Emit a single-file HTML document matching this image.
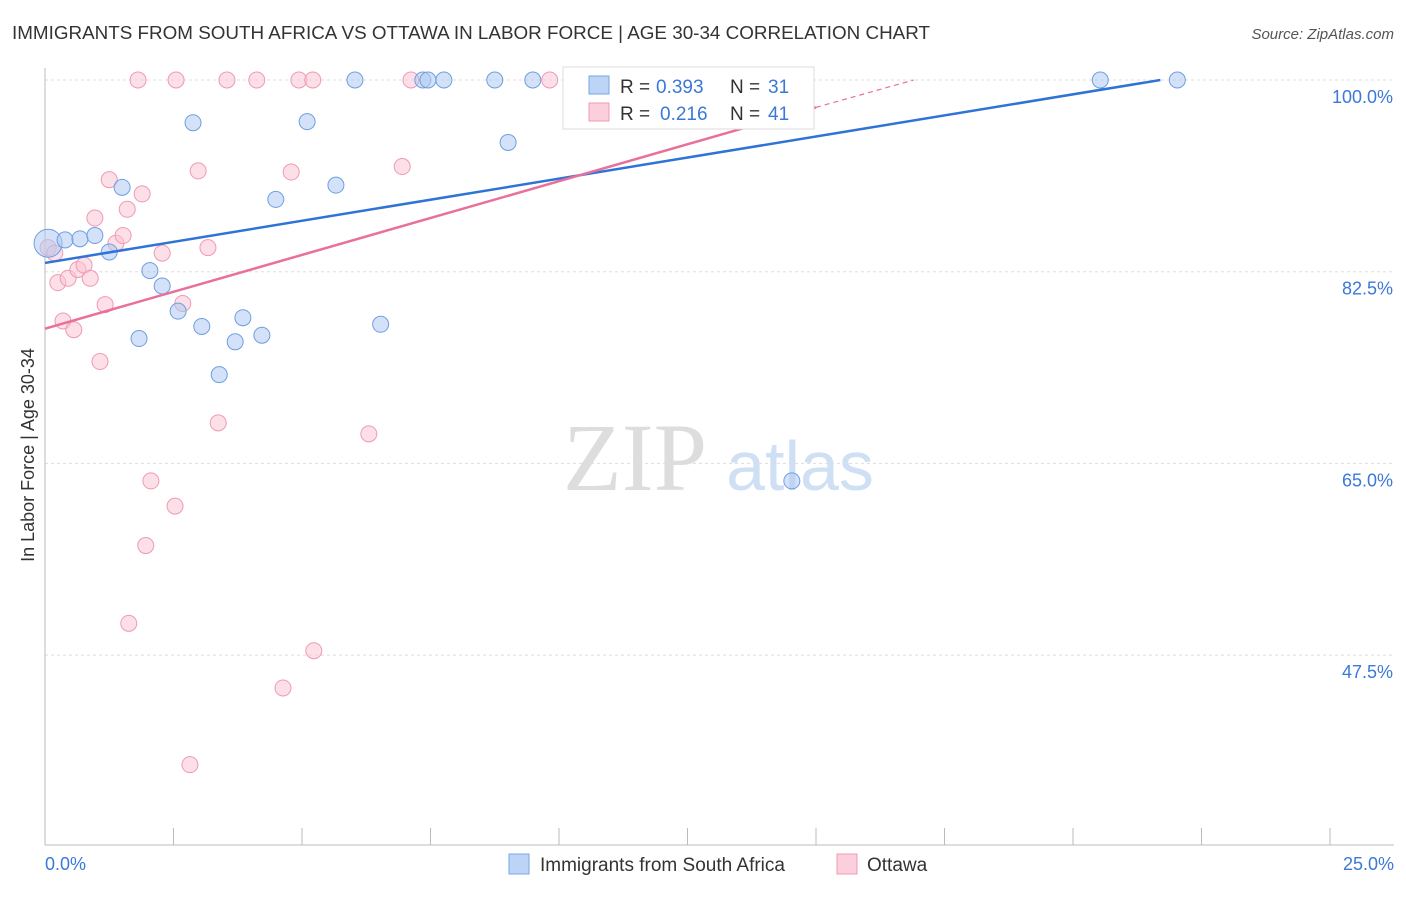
<!DOCTYPE html>
<html><head><meta charset="utf-8"><style>
body{margin:0;background:#fff;font-family:"Liberation Sans",sans-serif}
</style></head><body>
<svg width="1406" height="892" xmlns="http://www.w3.org/2000/svg" font-family="Liberation Sans, sans-serif">
<text x="12" y="39" font-size="18.5" fill="#333" textLength="918" lengthAdjust="spacingAndGlyphs">IMMIGRANTS FROM SOUTH AFRICA VS OTTAWA IN LABOR FORCE | AGE 30-34 CORRELATION CHART</text>
<text x="1394" y="39" font-size="15" fill="#555" font-style="italic" text-anchor="end">Source: ZipAtlas.com</text>
<text x="635" y="490" font-size="96" fill="#ddd" font-family="Liberation Serif, serif" text-anchor="middle">ZIP</text>
<text x="800" y="490" font-size="70" fill="#cfe0f4" text-anchor="middle">atlas</text>
<g id="grid"></g><g id="axes"></g><g id="marks"></g>
<text x="34" y="455" font-size="18" fill="#333" text-anchor="middle" transform="rotate(-90 34 455)">In Labor Force | Age 30-34</text>
<text x="45" y="870" font-size="18" fill="#3b78d8">0.0%</text>
<text x="1394" y="870" font-size="18" fill="#3b78d8" text-anchor="end">25.0%</text>
<g>
<rect x="563" y="67" width="251" height="62" fill="#fff" stroke="#ddd"/>
<rect x="589" y="76" width="20" height="18" fill="#bcd4f5" stroke="#7aa6e6"/>
<text x="620" y="93" font-size="19" fill="#333">R =</text>
<text x="656" y="93" font-size="19" fill="#3b78d8">0.393</text>
<text x="730" y="93" font-size="19" fill="#333">N =</text>
<text x="768" y="93" font-size="19" fill="#3b78d8">31</text>
<rect x="589" y="103" width="20" height="18" fill="#fbcfdc" stroke="#f09ab4"/>
<text x="620" y="120" font-size="19" fill="#333">R =</text>
<text x="660" y="120" font-size="19" fill="#3b78d8">0.216</text>
<text x="730" y="120" font-size="19" fill="#333">N =</text>
<text x="768" y="120" font-size="19" fill="#3b78d8">41</text>
</g>
<g>
<rect x="509" y="854" width="20" height="20" fill="#bcd4f5" stroke="#7aa6e6"/>
<text x="540" y="871" font-size="19" fill="#333">Immigrants from South Africa</text>
<rect x="837" y="854" width="20" height="20" fill="#fbcfdc" stroke="#f09ab4"/>
<text x="867" y="871" font-size="19" fill="#333">Ottawa</text>
</g>
</svg>
<script>
const yTicks=[100,82.5,65,47.5];
const xTicks=[0,2.5,5,7.5,10,12.5,15,17.5,20,22.5,25];
const blueX=[0.06,0.39,0.68,0.97,1.25,1.5,1.83,2.04,2.28,2.59,2.88,3.05,3.39,3.7,3.85,4.22,4.49,5.1,5.66,6.03,6.53,7.35,7.45,7.76,8.75,9.01,9.49,14.53,20.53,22.03,11.32];
const blueY=[85.1,85.4,85.5,85.8,84.3,90.2,76.4,82.6,81.2,78.9,96.1,77.5,73.1,76.1,78.3,76.7,89.1,96.2,90.4,100,77.7,100,100,100,100,94.3,100,63.4,100,100,100];
const pinkX=[0.06,0.19,0.25,0.35,0.45,0.56,0.64,0.76,0.88,0.97,1.07,1.17,1.25,1.38,1.52,1.6,1.81,1.89,1.96,2.06,1.63,2.28,2.53,2.55,2.68,2.82,2.98,3.17,3.37,3.54,4.12,4.63,4.79,4.94,5.21,5.23,6.3,6.95,7.12,9.82,11.38];
const pinkY=[84.7,84.2,81.5,78.0,81.9,77.2,82.7,83.1,81.9,87.4,74.3,79.5,90.9,85.1,85.8,88.2,100,89.6,57.5,63.4,50.4,84.2,61.1,100,79.6,37.5,91.7,84.7,68.7,100,100,44.5,91.6,100,100,47.9,67.7,92.1,100,100,100];
const blueLine=[0,83.3,21.7,100];
const pinkLine=[0,77.3,15,97.5,16.9,100];
const X=v=>45+v/25*1285, Y=v=>80+(100-v)/17.5*191.7;
const NS='http://www.w3.org/2000/svg';
function mk(p,t,a){const e=document.createElementNS(NS,t);for(const k in a)e.setAttribute(k,a[k]);document.getElementById(p).appendChild(e);return e;}
yTicks.forEach(v=>{const l=mk('grid','line',{x1:45,x2:1394,y1:Y(v),y2:Y(v),stroke:'#ddd','stroke-dasharray':'3,3'});


const t=mk('grid','text',{x:1393,y:Y(v)+23,'font-size':18,fill:'#3b78d8','text-anchor':'end'});t.textContent=v.toFixed(1)+'%';

});
const ax=mk('axes','line',{x1:45,x2:45,y1:68,y2:845,stroke:'#bbb'});


const bx=mk('axes','line',{x1:45,x2:1394,y1:845,y2:845,stroke:'#bbb'});


xTicks.forEach(v=>{const t=mk('axes','line',{x1:X(v),x2:X(v),y1:828,y2:845,stroke:'#bbb'});

});
function pts(xs,ys,fill,stroke,name){xs.forEach((x,i)=>{const c=mk('marks','circle',{cx:X(x),cy:Y(ys[i]),r:i==0&&name=='blue-point'?14:8,fill:fill,stroke:stroke,'fill-opacity':0.55});

});}
pts(pinkX,pinkY,'#fbc4d4','#ee9ab4','pink-point');
pts(blueX,blueY,'#aecbf2','#6f9ee0','blue-point');
const bl=mk('marks','line',{x1:X(blueLine[0]),y1:Y(blueLine[1]),x2:X(blueLine[2]),y2:Y(blueLine[3]),stroke:'#2f73d6','stroke-width':2.5});


const pl=mk('marks','line',{x1:X(pinkLine[0]),y1:Y(pinkLine[1]),x2:X(pinkLine[2]),y2:Y(pinkLine[3]),stroke:'#e8709a','stroke-width':2.5});


const pd=mk('marks','line',{x1:X(pinkLine[2]),y1:Y(pinkLine[3]),x2:X(pinkLine[4]),y2:Y(pinkLine[5]),stroke:'#e8709a','stroke-width':1.2,'stroke-dasharray':'5,4'});


</script>
</body></html>
